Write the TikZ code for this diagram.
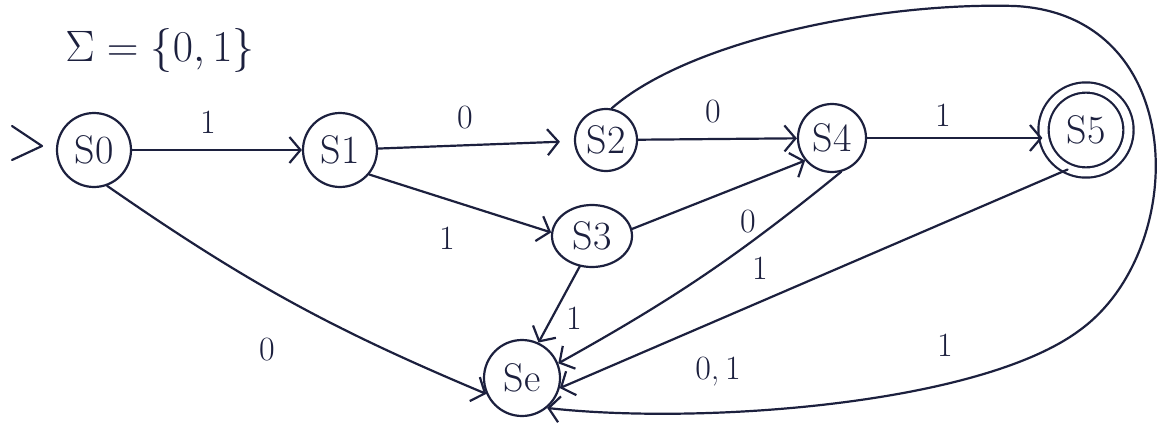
\RequirePackage{fix-cm}
\documentclass[tikz,border=0pt]{standalone}
\usetikzlibrary{arrows.meta,shapes.geometric}
\definecolor{ink}{RGB}{28,32,62}
\begin{document}
\begin{tikzpicture}[x=1pt,y=-1pt, line width=2.2pt, line cap=round, line join=round,
  state/.style={draw=ink, circle, minimum size=74pt, inner sep=0pt, font=\fontsize{40}{40}\selectfont, text=ink},
  edge/.style={draw=ink, -{Straight Barb[length=11pt,width=26pt]}},
  lab/.style={font=\fontsize{34}{34}\selectfont, text=ink, inner sep=0pt}]
\fill[white] (0,0) rectangle (1171,434);
\useasboundingbox (0,0) rectangle (1171,434);

% alphabet
\node[font=\fontsize{44}{44}\selectfont, text=ink] (alpha) at (160,50) {$\Sigma=\{0,1\}$};

% states
\node[state] (s0) at (94,150) {S0};
\node[state] (s1) at (340,150) {S1};
\node[state, minimum size=62pt] (s2) at (606,140) {S2};
\node[state, ellipse, minimum width=80pt, minimum height=62pt] (s3) at (592,236) {S3};
\node[state, minimum size=68pt] (s4) at (832,138) {S4};
\node[state, double, double distance=8pt, minimum size=85pt] (s5) at (1086,130) {S5};
\node[state, minimum size=76pt] (se) at (522,378) {Se};

% start marker
\coordinate (st) at (42,146);
\draw[ink] (st) ++(-30,-20) -- (st) -- ++(-30,14);

% edges
\draw[edge] (s0) -- (s1);
\draw[edge, shorten >=14pt] (s1) -- (s2);
\draw[edge] (s2) -- (s4);
\draw[edge] (s4.east) -- (s4.east -| s5.west);
\draw[edge] (s1.-40) -- (s3.175);
\draw[edge] (s3.10) -- (s4.220);
\draw[edge] (s4.-75) to[bend left=5] (se.22);
\draw[edge] (s3.-112) -- (se.65);
\draw[edge] (s0.-70) to[bend right=6] (se.204);
\draw[edge] (s5.-115) -- (se.-15);
\draw[edge] (s2.80) .. controls (690,40) and (880,2) .. (1015,6)
  .. controls (1190,15) and (1190,250) .. (1080,330)
  .. controls (980,405) and (700,425) .. (se.-50);

% labels
\node[lab] (l01) at (208,122) {1};
\node[lab] (l12) at (465,118) {0};
\node[lab] (l13) at (447,238) {1};
\node[lab] (l24) at (713,112) {0};
\node[lab] (l45) at (943,115) {1};
\node[lab] (l34) at (748,222) {0};
\node[lab] (l4e) at (760,268) {1};
\node[lab] (l3e) at (574,318) {1};
\node[lab] (l0e) at (267,350) {0};
\node[lab] (l5e) at (718,372) {0,\,1};
\node[lab] (l2e) at (945,345) {1};
\end{tikzpicture}
\end{document}
